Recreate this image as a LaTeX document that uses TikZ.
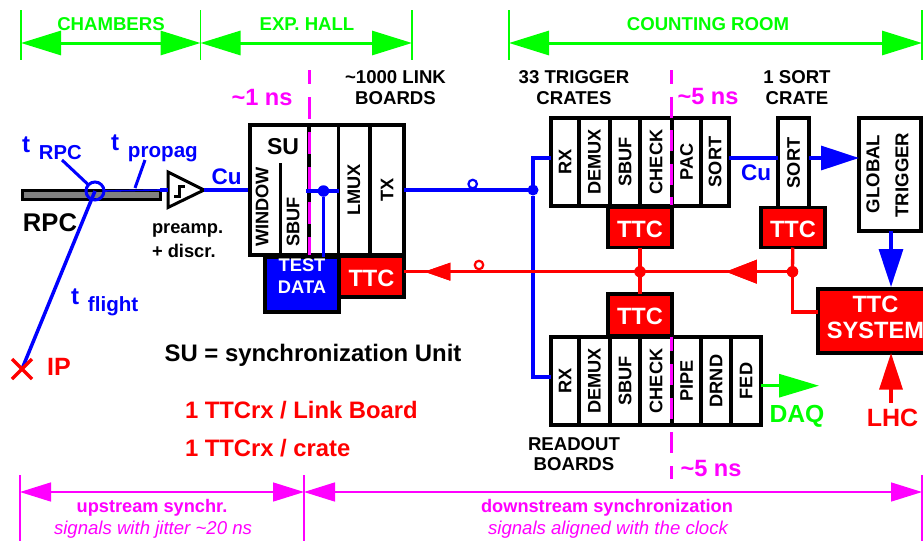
\documentclass[tikz,border=0pt]{standalone}
\usepackage{fontspec}
\setmainfont{Liberation Sans}
\usetikzlibrary{arrows.meta,decorations.markings}
\definecolor{grnColor}{HTML}{00FF00}
\definecolor{magColor}{HTML}{FF00FF}
\definecolor{bluColor}{HTML}{0000FF}
\definecolor{redColor}{HTML}{FF0000}
\newcommand{\fs}[1]{\fontsize{#1}{#1}\selectfont}
\tikzset{
	lab/.style={inner sep=0,outer sep=0,font=\bfseries\fontsize{18.6}{20.5}\selectfont,align=center},
	big/.style={lab,font=\bfseries\fontsize{23.6}{26}\selectfont},
	slot/.style={draw,line width=3.4pt,fill=white,inner sep=0,outer sep=0,font=\bfseries\fontsize{18.2}{20}\selectfont},
	ttcbox/.style={draw,line width=3.6pt,fill=redColor,text=white,text height=20pt,inner sep=0,outer sep=0,font=\bfseries\fontsize{23.6}{26}\selectfont,align=center},
	bluwire/.style={draw=bluColor,line width=3.3pt},
	redwire/.style={draw=redColor,line width=3.3pt},
	bigtip/.style={-{Triangle[length=38pt,width=24pt]}},
	dot/.style={circle,fill=#1,inner sep=0,outer sep=0,minimum size=11.5pt},
	ring/.style={circle,draw=#1,line width=2.2pt,fill=white,inner sep=0,outer sep=0,minimum size=8.5pt},
	tick/.style={draw=#1,line width=1.2pt},
	span/.style={draw=grnColor,line width=3pt,{Triangle[length=40pt,width=24pt]}-{Triangle[length=40pt,width=24pt]}},
	magspan/.style={draw=magColor,line width=1.5pt,{Triangle[length=31pt,width=19pt]}-{Triangle[length=31pt,width=19pt]}},
	skew/.style={draw=magColor,line width=3pt,dash pattern=on 22pt off 13pt},
	midtip/.style args={at #1 size #2 by #3}{decoration={markings,
			mark=at position #1 with {\arrow{Triangle[length=#2,width=#3]};}},postaction={decorate}}
}
\begin{document}
\begin{tikzpicture}[x=1pt,y=-1pt]
	\useasboundingbox (0,0) rectangle (923,541);
	% top spans
	\coordinate (c0) at (21,43);
	\coordinate (c1) at (200.5,43);
	\coordinate (c2) at (412,43);
	\coordinate (c3) at (509,43);
	\coordinate (c4) at (922,43);
	\draw[tick=grnColor] (c0) ++(0,-33) -- ++(0,50);
	\draw[tick=grnColor] (c1) ++(0,-33) -- ++(0,50);
	\draw[tick=grnColor] (c2) ++(0,-33) -- ++(0,50);
	\draw[tick=grnColor] (c3) ++(0,-33) -- ++(0,50);
	\draw[tick=grnColor] (c4) ++(0,-33) -- ++(0,50);
	\draw[span] (c0) -- (c1);
	\draw[span] (c1) -- (c2);
	\draw[span] (c3) -- (c4);
	\node[lab,text=grnColor] (chambers) at (111,24) {CHAMBERS};
	\node[lab,text=grnColor] (hall) at (307,24) {EXP. HALL};
	\node[lab,text=grnColor] (counting) at (708,24) {COUNTING ROOM};
	
	% bottom spans
	\coordinate (d0) at (20,492);
	\coordinate (d1) at (304,492);
	\coordinate (d2) at (922,492);
	\draw[tick=magColor] (d0) ++(0,-17) -- ++(0,66);
	\draw[tick=magColor] (d1) ++(0,-17) -- ++(0,66);
	\draw[tick=magColor] (d2) ++(0,-17) -- ++(0,66);
	\draw[magspan] (d0) -- (d1);
	\draw[magspan] (d1) -- (d2);
	\node[lab,text=magColor,font=\bfseries\fontsize{18.2}{20}\selectfont] (upstream) at (152,508) {upstream synchr.};
	\node[lab,text=magColor,font=\itshape\fontsize{18.6}{20}\selectfont] (jitter) at (153,530) {signals with jitter \textasciitilde20 ns};
	\node[lab,text=magColor,font=\bfseries\fontsize{18.2}{20}\selectfont] (downstream) at (607,508) {downstream synchronization};
	\node[lab,text=magColor,font=\itshape\fontsize{18.6}{20}\selectfont] (aligned) at (608,530) {signals aligned with the clock};
	
	% chamber and preamp
	\node[draw,line width=3pt,fill=black!50,minimum width=138pt,minimum height=9pt,inner sep=0,outer sep=0] (rpc) at (91,194.5) {};
	\coordinate (ip) at (22,369);
	\coordinate (hit) at (95,191);
	\node[circle,draw=bluColor,line width=3pt,minimum size=18pt,inner sep=0,outer sep=0] (hitring) at (hit) {};
	\coordinate (preampin) at (168,190);
	\coordinate (preamptip) at (204,190);
	\draw[line width=3pt,line join=miter,fill=white] (preampin) ++(0,-18) -- (preamptip) -- (168,207.5) -- cycle;
	\draw[line width=3pt] (174,196) -- (179.5,196) -- (179.5,186) -- (185,186);
	\draw[bluwire,line width=1.6pt] (hitring.east) -- (rpc.north east);
	\draw[bluwire] (rpc.east |- preampin) -- (preampin);
	\coordinate (legrpc) at (62,160);
	\coordinate (legprop) at (145,160);
	\coordinate (propfoot) at (135,188);
	\draw[bluwire,line width=3pt] (legrpc) -- (hitring);
	\draw[bluwire,line width=3pt] (legprop) -- (propfoot);
	\draw[bluwire,line width=3.5pt] (hit) -- (ip);
	\draw[redwire] (ip) ++(-10,-10) -- ++(20,20);
	\draw[redwire] (ip) ++(10,-10) -- ++(-20,20);
	\node[lab,anchor=base west,text=bluColor,font=\bfseries\fs{24}] (trpc) at (22,152) {t\hspace*{9pt}\raisebox{-7.5pt}{\fs{20.2}RPC}};
	\node[lab,anchor=base west,text=bluColor,font=\bfseries\fs{24}] (tpropag) at (111,150) {t\hspace*{9pt}\raisebox{-7pt}{\fs{20.6}propag}};
	\node[lab,anchor=base west,text=bluColor,font=\bfseries\fs{24}] (tflight) at (71,304) {t\hspace*{9pt}\raisebox{-7pt}{\fs{20.6}flight}};
	\node[lab,text=redColor,font=\bfseries\fs{25}] (iplab) at (59,367) {IP};
	\node[lab,font=\bfseries\fs{25.6}] (rpclab) at (50,223) {RPC};
	\node[lab,align=left,anchor=west,font=\bfseries\fontsize{18.3}{24}\selectfont] (preamp) at (152,241) {preamp.\\+ discr.};
	\node[big,text=bluColor,font=\bfseries\fs{22.5}] (cu1) at (226.5,176.5) {Cu};
	
	% link board
	\draw[bluwire] (preamptip) -- (250,190);
	\node[slot,minimum width=89pt,minimum height=130pt] (su) at (294.5,190) {};
	\node[slot,minimum width=31pt,minimum height=130pt] (lmux) at (354,190) {\rotatebox{90}{LMUX}};
	\node[slot,minimum width=34pt,minimum height=130pt] (tx) at (387,190) {\rotatebox{90}{TX}};
	\node[lab,font=\bfseries\fs{23}] (sulab) at (283,147) {SU};
	\node[lab,rotate=90,font=\bfseries\fontsize{18.2}{20}\selectfont] (window) at (262,207) {WINDOW};
	\node[lab,rotate=90,font=\bfseries\fontsize{18.2}{20}\selectfont] (sbufsu) at (293,222) {SBUF};
	\coordinate (sbuftop) at (280,163);
	\draw[line width=3pt] (sbuftop) -- (su.south -| sbuftop);
	\coordinate (cut1) at (309,70);
	\draw[line width=3.4pt] (cut1 |- su.north) -- (cut1 |- su.south);
	\draw[skew,dash phase=8pt] (cut1) -- (cut1 |- su.south);
	\node[ttcbox,fill=bluColor,text height=17pt,font=\bfseries\fontsize{18.3}{21.7}\selectfont,minimum width=74pt,minimum height=55pt] (test) at (302,284.5) {TEST\\DATA};
	\node[ttcbox,minimum width=65pt,minimum height=40.5pt] (ttclb) at (371.5,276.5) {TTC};
	\node[dot=bluColor] (sujoin) at (323.5,191) {};
	\draw[bluwire] (306,191) -- (lmux.west |- sujoin);
	\draw[bluwire] (sujoin) -- (sujoin |- test.north);
	\node[big,text=magColor] (ns1) at (262,97) {\textasciitilde1 ns};
	\node[lab] (lbs) at (395.5,87.5) {\textasciitilde1000 LINK\\BOARDS};
	
	% trigger crates
	\node[slot,minimum width=28pt,minimum height=88pt] (rxa) at (565,162) {\rotatebox{90}{RX}};
	\node[slot,minimum width=31pt,minimum height=88pt] (demuxa) at (594.5,162) {\rotatebox{90}{DEMUX}};
	\node[slot,minimum width=30pt,minimum height=88pt] (sbufa) at (625,162) {\rotatebox{90}{SBUF}};
	\node[slot,minimum width=32pt,minimum height=88pt] (checka) at (656,162) {\rotatebox{90}{CHECK}};
	\node[slot,minimum width=29pt,minimum height=88pt] (paca) at (686.5,162) {\rotatebox{90}{PAC}};
	\node[slot,minimum width=28pt,minimum height=88pt] (sorta) at (715,162) {\rotatebox{90}{SORT}};
	\node[ttcbox,minimum width=64pt,minimum height=40pt] (ttca) at (640,227.5) {TTC};
	\node[lab] (crates) at (574,87.5) {33 TRIGGER\\CRATES};
	\node[big,text=magColor] (ns5a) at (708,96) {\textasciitilde5 ns};
	
	% sort crate and global trigger
	\node[slot,minimum width=31pt,minimum height=90pt] (sortb) at (793.5,163) {\rotatebox{90}{SORT}};
	\node[ttcbox,minimum width=64pt,minimum height=40pt] (ttcb) at (793,227.5) {TTC};
	\node[lab] (sortcrate) at (797,87.5) {1 SORT\\CRATE};
	\node[slot,minimum width=62pt,minimum height=113pt] (global) at (890,174.5) {};
	\node[lab,rotate=90] (globlab) at (873,174) {GLOBAL};
	\node[lab,rotate=90] (triglab) at (902,175) {TRIGGER};
	
	% readout boards
	\node[slot,minimum width=28pt,minimum height=88pt] (rxc) at (565,381) {\rotatebox{90}{RX}};
	\node[slot,minimum width=31pt,minimum height=88pt] (demuxc) at (594.5,381) {\rotatebox{90}{DEMUX}};
	\node[slot,minimum width=30pt,minimum height=88pt] (sbufc) at (625,381) {\rotatebox{90}{SBUF}};
	\node[slot,minimum width=32pt,minimum height=88pt] (checkc) at (656,381) {\rotatebox{90}{CHECK}};
	\node[slot,minimum width=29pt,minimum height=88pt] (pipec) at (686.5,381) {\rotatebox{90}{PIPE}};
	\node[slot,minimum width=30pt,minimum height=88pt] (drndc) at (716,381) {\rotatebox{90}{DRND}};
	\node[slot,minimum width=30pt,minimum height=88pt] (fedc) at (746,381) {\rotatebox{90}{FED}};
	\node[ttcbox,minimum width=64pt,minimum height=42pt] (ttcc) at (640,315) {TTC};
	\node[lab] (readout) at (574,454) {READOUT\\BOARDS};
	\node[big,text=magColor] (ns5c) at (711,468) {\textasciitilde5 ns};
	
	% skew marks of the crates
	\coordinate (cut2) at (671.7,70);
	\coordinate (cut2a) at (671.7,205);
	\coordinate (cut3) at (671.7,337);
	\coordinate (cut3a) at (671.7,479);
	\draw[skew,dash pattern=on 21pt off 12.5pt,dash phase=7pt] (cut2) -- (cut2a);
	\draw[skew,dash pattern=on 21pt off 13pt,dash phase=7pt] (cut3) -- (cut3a);
	
	% ttc system
	\node[ttcbox,line width=4pt,minimum width=114pt,minimum height=64pt] (ttcsys) at (875,321) {};
	\node[big,text=white] (ttcsyslab) at (875.5,317) {TTC\\SYSTEM};
	\coordinate (lhcfoot) at (891,403);
	\node[lab,text=redColor,font=\bfseries\fs{25}] (lhc) at (892.5,418) {LHC};
	\draw[redwire,-{Triangle[length=36.5pt,width=23pt]}] (lhcfoot) -- (lhcfoot |- ttcsys.south);
	
	% signal wires
	\node[dot=bluColor,minimum size=11pt] (rxjoin) at (533,190) {};
	\coordinate (rxain) at (551,158);
	\coordinate (rxcin) at (551,377);
	\draw[bluwire] (tx.east |- rxjoin) -- (rxjoin);
	\draw[bluwire] (rxjoin) |- (rxain);
	\draw[bluwire] (rxjoin) |- (rxcin);
	\node[ring=bluColor] (txring) at (472.7,184) {};
	\coordinate (sortaout) at (729,158);
	\draw[bluwire] (sortaout) -- (sortb.west |- sortaout);
	\node[big,text=bluColor,font=\bfseries\fs{22.5}] (cu2) at (756,172.5) {Cu};
	\draw[bluwire,bigtip] (sortb.east |- sortaout) -- (global.west |- sortaout);
	\draw[bluwire,bigtip] (891,231) -- (891,287);
	
	\node[dot=redColor] (joina) at (640,271.7) {};
	\node[dot=redColor] (joinb) at (792.5,271.7) {};
	\draw[redwire,midtip={at 61pt size 31pt by 23pt},midtip={at 362.5pt size 26pt by 17pt}] (joinb) -- (ttclb.east |- joinb);
	\draw[redwire] (ttca) -- (ttcc);
	\draw[redwire] (joinb) -- (ttcb);
	\coordinate (sysin) at (792.5,312);
	\draw[redwire] (joinb) |- (ttcsys.west |- sysin);
	\node[ring=redColor] (redring) at (479,265) {};
	
	\draw[draw=grnColor,line width=3pt,-{Triangle[length=40pt,width=23pt]}] (fedc.east |- 0,385.7) -- (819,385.7);
	\node[big,text=grnColor,font=\bfseries\fs{24.7}] (daq) at (797,416) {DAQ};
	
	% notes
	\node[lab,font=\bfseries\fs{23.9}] (sunote) at (313,355) {SU = synchronization Unit};
	\node[lab,anchor=west,text=redColor,font=\bfseries\fs{23.8}] (note1) at (185,410) {1 TTCrx / Link Board};
	\node[lab,anchor=west,text=redColor,font=\bfseries\fs{23.8}] (note2) at (185,448) {1 TTCrx / crate};
\end{tikzpicture}
\end{document}
